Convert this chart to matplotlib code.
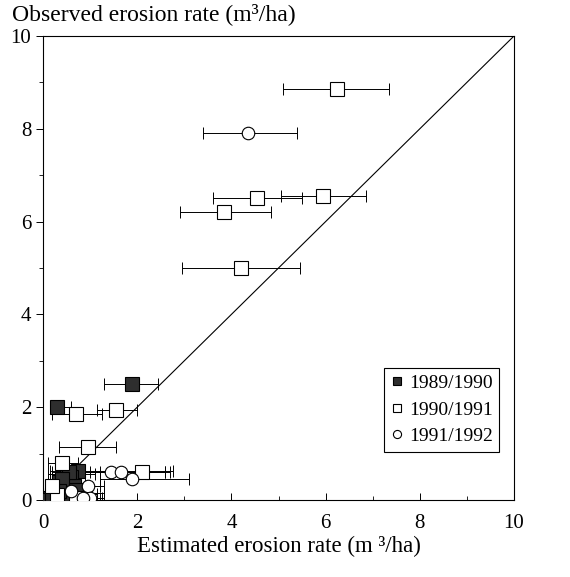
import numpy as np
import matplotlib.pyplot as plt
from matplotlib.ticker import MultipleLocator

plt.rcParams['font.family'] = ['Liberation Serif', 'DejaVu Serif']

# 1989/1990 (filled squares): estimate, observed, bar low, bar high
est_89 = [1.9, 0.3, 0.75, 0.5, 0.6, 0.35, 0.45, 0.65, 0.3, 0.5, 0.75, 0.9, 0.15, 0.25,
          0.4, 0.6, 0.1, 0.55, 0.4, 0.7, 0.2, 0.35]
obs_89 = [2.5, 2.0, 0.62, 0.55, 0.5, 0.38, 0.3, 0.3, 0.15, 0.12, 0.12, 0.15, 0.05, 0.02,
          0.03, 0.02, 0.0, 0.6, 0.45, 0.22, 0.1, 0.2]
lo_89 = [1.3, 0.15, 0.15, 0.1, 0.2, 0.1, 0.2, 0.3, 0.05, 0.2, 0.4, 0.55, 0.02, 0.05,
         0.1, 0.3, 0.02, 0.2, 0.15, 0.4, 0.05, 0.1]
hi_89 = [2.45, 0.6, 2.75, 1.1, 0.9, 0.7, 0.8, 1.2, 0.6, 0.9, 1.15, 1.3, 0.4, 0.6,
         0.8, 1.0, 0.3, 1.0, 0.75, 1.05, 0.45, 0.65]

# 1990/1991 (open squares)
est_90 = [6.25, 4.55, 5.95, 3.85, 4.2, 1.55, 0.7, 0.95, 0.4, 2.1, 0.3, 0.7, 0.2]
obs_90 = [8.85, 6.5, 6.55, 6.2, 5.0, 1.95, 1.85, 1.15, 0.8, 0.6, 0.1, 0.05, 0.3]
lo_90 = [5.1, 3.6, 5.05, 2.9, 2.95, 1.15, 0.2, 0.35, 0.1, 0.8, 0.05, 0.3, 0.05]
hi_90 = [7.35, 5.5, 6.85, 4.85, 5.45, 2.0, 1.25, 1.55, 0.75, 2.6, 0.7, 1.2, 0.5]

# 1991/1992 (open circles)
est_91 = [4.35, 1.45, 1.65, 1.9, 0.95, 1.0, 0.6, 0.85]
obs_91 = [7.9, 0.6, 0.6, 0.45, 0.3, 0.05, 0.2, 0.05]
lo_91 = [3.4, 0.9, 1.2, 1.2, 0.5, 0.6, 0.3, 0.5]
hi_91 = [5.4, 2.7, 2.6, 3.1, 1.3, 1.3, 1.0, 1.25]

fig = plt.figure(figsize=(5.7, 5.77), dpi=100)
ax = fig.add_axes([43 / 570, 1 - 500 / 577, (514 - 43) / 570, (500 - 36) / 577])


def draw(est, obs, lo, hi, marker, face, size, label):
    est = np.array(est)
    xerr = [est - np.array(lo), np.array(hi) - est]
    ax.errorbar(est, obs, xerr=xerr, fmt='none', ecolor='black', elinewidth=0.7,
                capsize=4, capthick=0.7, zorder=2)
    ax.plot(est, obs, linestyle='none', marker=marker, markersize=size,
            markerfacecolor=face, markeredgecolor='black', markeredgewidth=0.8,
            label=label, zorder=3)


draw(est_89, obs_89, lo_89, hi_89, 's', '#2e2e2e', 9.5, '1989/1990')
draw(est_90, obs_90, lo_90, hi_90, 's', 'white', 9.5, '1990/1991')
draw(est_91, obs_91, lo_91, hi_91, 'o', 'white', 9, '1991/1992')

ax.plot([0, 10], [0, 10], color='black', linewidth=0.8, zorder=1)

ax.set_xlim(0, 10)
ax.set_ylim(0, 10)
ax.xaxis.set_major_locator(MultipleLocator(2))
ax.yaxis.set_major_locator(MultipleLocator(2))
ax.xaxis.set_minor_locator(MultipleLocator(1))
ax.yaxis.set_minor_locator(MultipleLocator(1))
ax.tick_params(axis='x', which='both', direction='in', top=False, labelsize=15, pad=10)
ax.tick_params(axis='y', which='both', direction='out', right=False, labelsize=15)
ax.tick_params(which='major', length=5, width=0.7)
ax.tick_params(which='minor', length=3, width=0.6)
for s in ax.spines.values():
    s.set_linewidth(0.8)

ax.set_xlabel('Estimated erosion rate (m \u00b3/ha)', fontsize=16.5, labelpad=2)
fig.text(12 / 570, 1 - 14 / 577, 'Observed erosion rate (m\u00b3/ha)', fontsize=17,
         ha='left', va='center')

leg = ax.legend(loc='upper left', bbox_to_anchor=(0.725, 0.285), fontsize=14,
                frameon=True, fancybox=False, edgecolor='black', framealpha=1,
                handlelength=0.6, handletextpad=0.3, borderpad=0.35, labelspacing=0.45,
                borderaxespad=0, markerscale=0.65)
leg.get_frame().set_linewidth(0.8)

fig.savefig('out.png', dpi=100)
